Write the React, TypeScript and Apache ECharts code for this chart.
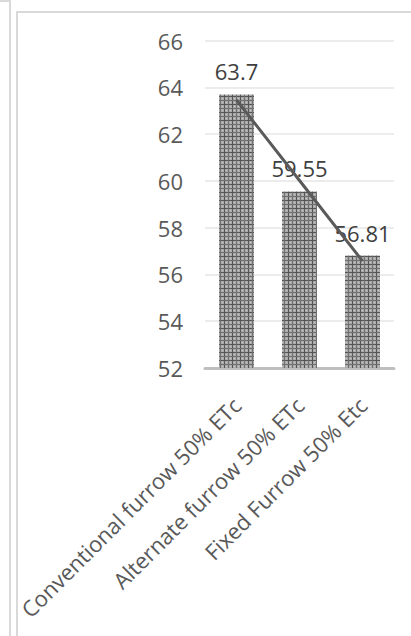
import React, { useEffect, useRef } from "react";
import * as echarts from "echarts";

// Irrigation treatments and their measured values
const categories = [
  "Conventional furrow 50% ETc",
  "Alternate furrow 50% ETc",
  "Fixed Furrow 50% Etc",
];
const values = [63.7, 59.55, 56.81];

// Value axis range
const yMin = 52;
const yMax = 66;
const yStep = 2;

// Ordinary least-squares fit over the bar values (x = 1, 2, 3)
function linearTrend(ys: number[]): number[] {
  const n = ys.length;
  const xs = ys.map((_, i) => i + 1);
  const mx = xs.reduce((a, b) => a + b, 0) / n;
  const my = ys.reduce((a, b) => a + b, 0) / n;
  let num = 0;
  let den = 0;
  for (let i = 0; i < n; i++) {
    num += (xs[i] - mx) * (ys[i] - my);
    den += (xs[i] - mx) * (xs[i] - mx);
  }
  const slope = num / den;
  const icpt = my - slope * mx;
  return xs.map((x) => +(icpt + slope * x).toFixed(4));
}

// Small grey grid tile used as the bar fill
function makeGridTile(): HTMLCanvasElement {
  const c = document.createElement("canvas");
  c.width = 8;
  c.height = 8;
  const g = c.getContext("2d")!;
  g.fillStyle = "#a9a9a9";
  g.fillRect(0, 0, 8, 8);
  g.fillStyle = "#c8c8c8";
  for (let y = 2; y < 8; y += 2) {
    for (let x = 2 + (y % 4 === 0 ? 1 : 0); x < 8; x += 2) g.fillRect(x, y, 1, 1);
  }
  g.fillStyle = "#555555";
  g.fillRect(0, 0, 8, 1);
  g.fillRect(0, 0, 1, 8);
  g.fillStyle = "#707070";
  g.fillRect(0, 4, 8, 1);
  g.fillRect(4, 0, 1, 8);
  return c;
}

const FONT = "'Open Sans', sans-serif";

export default function App() {
  const ref = useRef<HTMLDivElement>(null);

  useEffect(() => {
    if (!ref.current) return;
    const chart = echarts.init(ref.current, undefined, { renderer: "svg" });
    const tile = makeGridTile();
    const trend = linearTrend(values);

    chart.setOption({
      animation: false,
      backgroundColor: "#ffffff",
      textStyle: { fontFamily: FONT },
      grid: { left: 205, right: 17, top: 40.7, bottom: 268, containLabel: false },
      graphic: [
        // outer frame edges
        { type: "line", shape: { x1: 10, y1: 0, x2: 10, y2: 636 }, style: { stroke: "#d9d9d9", lineWidth: 2 }, silent: true },
        { type: "line", shape: { x1: 0, y1: 1, x2: 10, y2: 1 }, style: { stroke: "#d9d9d9", lineWidth: 2 }, silent: true },
        // chart area border
        { type: "line", shape: { x1: 17, y1: 12, x2: 411, y2: 12 }, style: { stroke: "#d9d9d9", lineWidth: 2 }, silent: true },
        { type: "line", shape: { x1: 17, y1: 11, x2: 17, y2: 636 }, style: { stroke: "#d9d9d9", lineWidth: 2 }, silent: true },
      ],
      xAxis: {
        type: "category",
        data: categories,
        axisLine: { lineStyle: { color: "#bfbfbf", width: 3 } },
        axisTick: { show: false },
        axisLabel: {
          rotate: 45,
          interval: 0,
          margin: 33,
          color: "#595959",
          fontSize: 22,
          fontFamily: FONT,
        },
      },
      yAxis: {
        type: "value",
        min: yMin,
        max: yMax,
        interval: yStep,
        axisLine: { show: false },
        axisTick: { show: false },
        splitLine: { lineStyle: { color: "#e6e6e6", width: 1.5 } },
        axisLabel: {
          color: "#595959",
          fontSize: 22,
          margin: 22,
          fontFamily: FONT,
        },
      },
      series: [
        {
          type: "bar",
          data: values,
          barWidth: 35,
          itemStyle: {
            color: { image: tile, repeat: "repeat" },
          },
          label: {
            show: true,
            position: "top",
            distance: 12,
            color: "#404040",
            fontSize: 22,
            fontFamily: FONT,
          },
          z: 2,
        },
        {
          type: "line",
          data: trend,
          symbol: "none",
          lineStyle: { color: "#5a5a5a", width: 3 },
          z: 3,
          silent: true,
        },
      ],
    });

    return () => chart.dispose();
  }, []);

  return (
    <div
      ref={ref}
      style={{ position: "fixed", left: 0, top: 0, width: 411, height: 636 }}
    />
  );
}
